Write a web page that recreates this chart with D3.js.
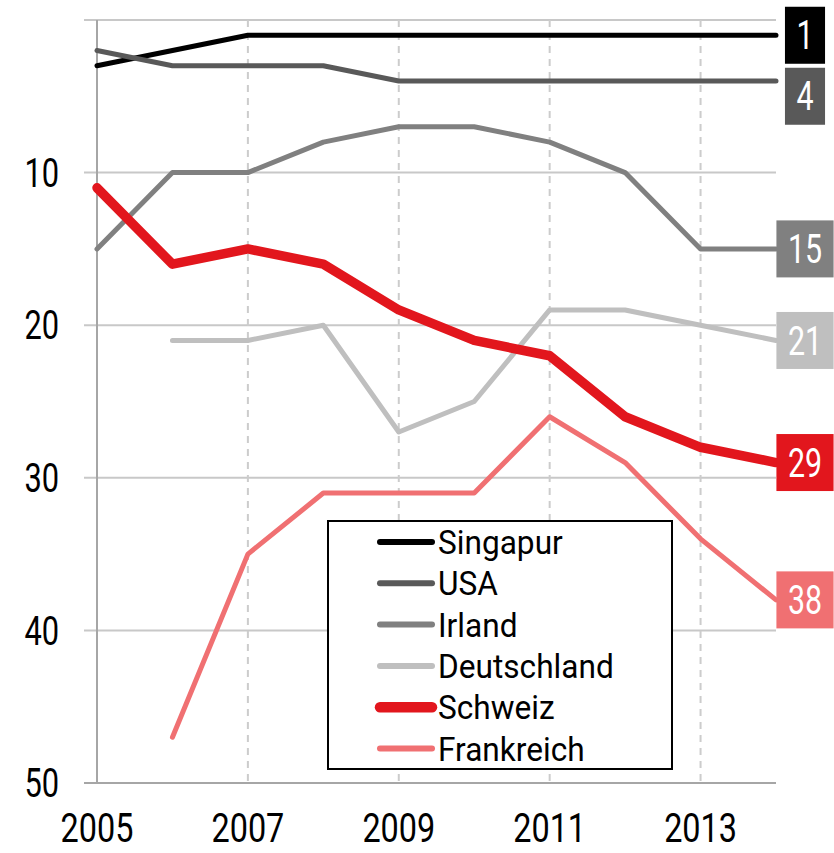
<!DOCTYPE html>
<html>
<head>
<meta charset="utf-8">
<script src="https://cdn.jsdelivr.net/npm/d3@7"></script>
<style>
    body { margin: 0; background: #fff; }
    text { font-family: Roboto, "DejaVu Sans Condensed", sans-serif; }
</style>
</head>
<body>
<div id="canvas"></div>
<script>
"use strict"

/* ***** data ***** */
let years = [2005, 2006, 2007, 2008, 2009, 2010, 2011, 2012, 2013, 2014];
let countries = ["Singapur", "USA", "Irland", "Deutschland", "Schweiz", "Frankreich"];
let colors = ["#000000", "#595959", "#808080", "#bfbfbf", "#e2161d", "#f07072"];
let widths = [5, 5, 5, 5, 9.5, 5];

let singapur    = [3, 2, 1, 1, 1, 1, 1, 1, 1, 1];
let usa         = [2, 3, 3, 3, 4, 4, 4, 4, 4, 4];
let irland      = [15, 10, 10, 8, 7, 7, 8, 10, 15, 15];
let deutschland = [null, 21, 21, 20, 27, 25, 19, 19, 20, 21];
let schweiz     = [11, 16, 15, 16, 19, 21, 22, 26, 28, 29];
let frankreich  = [null, 47, 35, 31, 31, 31, 26, 29, 34, 38];
let series = [singapur, usa, irland, deutschland, schweiz, frankreich];

let yTicks = [10, 20, 30, 40, 50];
let gridValues = [0, 10, 20, 30, 40];
let xTicks = [2005, 2007, 2009, 2011, 2013];
let dashedYears = [2007, 2009, 2011, 2013];

/* ***** canvas ***** */
let drawing = d3.select("#canvas")
    .append("svg")
    .attr("width", 834)
    .attr("height", 853);

let x = d3.scaleLinear().domain([2005, 2014]).range([97, 776]);
let y = d3.scaleLinear().domain([0, 50]).range([20, 783]);

// text squeezed horizontally to imitate the condensed font of the original
function label(parent, px, py, str, size, sx, anchor, fill) {
    return parent.append("text")
        .attr("transform", `translate(${px},${py}) scale(${sx},1)`)
        .attr("dy", "0.355em")
        .attr("text-anchor", anchor)
        .attr("font-size", size)
        .attr("fill", fill)
        .text(str);
}

// horizontal grid lines
drawing.selectAll(".grid")
    .data(gridValues)
    .enter()
    .append("line")
    .attr("x1", 84)
    .attr("x2", x(2014))
    .attr("y1", d => y(d))
    .attr("y2", d => y(d))
    .attr("stroke", "#c8c8c8")
    .attr("stroke-width", 2);

// dashed verticals
drawing.selectAll(".vgrid")
    .data(dashedYears)
    .enter()
    .append("line")
    .attr("x1", d => x(d))
    .attr("x2", d => x(d))
    .attr("y1", y(0))
    .attr("y2", y(50))
    .attr("stroke", "#cccccc")
    .attr("stroke-width", 2)
    .attr("stroke-dasharray", "7,6");

// axes
drawing.append("line")
    .attr("x1", x(2005)).attr("x2", x(2005))
    .attr("y1", y(0)).attr("y2", y(50))
    .attr("stroke", "#a6a6a6")
    .attr("stroke-width", 2);

drawing.append("line")
    .attr("x1", 84).attr("x2", x(2014))
    .attr("y1", y(50)).attr("y2", y(50))
    .attr("stroke", "#a6a6a6")
    .attr("stroke-width", 2);

yTicks.forEach(d => {
    label(drawing, 59, y(d), d, 40, 0.77, "end", "#000");
});

xTicks.forEach(d => {
    label(drawing, x(d), 828, d, 40, 0.81, "middle", "#000");
});

/* ***** lines ***** */
let line = d3.line()
    .defined(d => d.v !== null)
    .x(d => x(d.year))
    .y(d => y(d.v));

series.forEach((values, i) => {
    let pts = years.map((yr, j) => ({year: yr, v: values[j]}));
    drawing.append("path")
        .attr("d", line(pts))
        .attr("fill", "none")
        .attr("stroke", colors[i])
        .attr("stroke-width", widths[i])
        .attr("stroke-linecap", "round")
        .attr("stroke-linejoin", "round");
});

/* ***** end labels ***** */
let lastBottom = -Infinity;
series.forEach((values, i) => {
    let v = values[values.length - 1];
    let h = 57;
    let top = Math.max(y(v) - h / 2, lastBottom + 4);
    lastBottom = top + h;
    let g = drawing.append("g");
    let box = g.append("rect")
        .attr("fill", colors[i]);
    let t = label(g, 805, top + h / 2, v, 40, 0.76, "middle", "#fff");
    let w = t.node().getComputedTextLength() * 0.76 + 23;
    box.attr("x", 805 - w / 2)
        .attr("y", top)
        .attr("width", w)
        .attr("height", h);
});

/* ***** legend ***** */
let legend = drawing.append("g");
legend.append("rect")
    .attr("x", 328)
    .attr("y", 521)
    .attr("width", 344)
    .attr("height", 248)
    .attr("fill", "#fff")
    .attr("stroke", "#000")
    .attr("stroke-width", 2);

countries.forEach((name, i) => {
    let ly = 542 + i * 41.3;
    legend.append("line")
        .attr("x1", 380).attr("x2", 432)
        .attr("y1", ly).attr("y2", ly)
        .attr("stroke", colors[i])
        .attr("stroke-width", widths[i] + 1)
        .attr("stroke-linecap", "round");
    label(legend, 438, ly, name, 34, 0.93, "start", "#000");
});
</script>
</body>
</html>
